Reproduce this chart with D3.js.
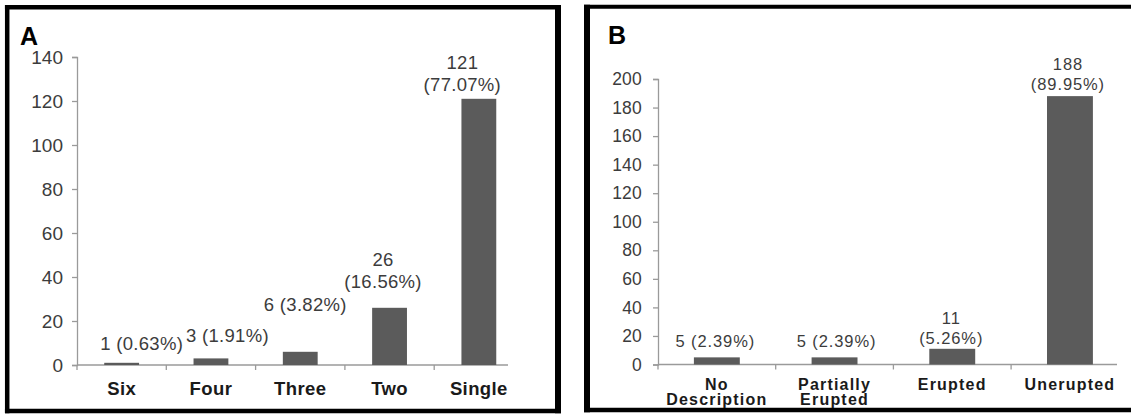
<!DOCTYPE html>
<html>
<head>
<meta charset="utf-8">
<script src="https://cdn.jsdelivr.net/npm/d3@7/dist/d3.min.js"></script>
<style>
  html, body { margin: 0; padding: 0; background: #fff; }
  svg { display: block; }
  text { font-family: "Liberation Sans", Arial, sans-serif; }
</style>
</head>
<body>
<svg id="chart" width="1131" height="414"></svg>
<script>
// ---------- data ----------
const categoriesA = [["Six"], ["Four"], ["Three"], ["Two"], ["Single"]];
const valuesA = [1, 3, 6, 26, 121];
const percentsA = ["0.63%", "1.91%", "3.82%", "16.56%", "77.07%"];
const yTicksA = [0, 20, 40, 60, 80, 100, 120, 140];

const categoriesB = [["No", "Description"], ["Partially", "Erupted"], ["Erupted"], ["Unerupted"]];
const valuesB = [5, 5, 11, 188];
const percentsB = ["2.39%", "2.39%", "5.26%", "89.95%"];
const yTicksB = [0, 20, 40, 60, 80, 100, 120, 140, 160, 180, 200];

// ---------- layout (label placement as in the reference) ----------
const splitA = [false, false, false, true, true];
const dxA = [20, 16.5, 5, -6.5, -16.5];
const dyA = [-19.5, -22.5, -47.5, -26.7, -14.5];
const splitB = [false, false, true, true];
const dxB = [-1.5, 2, -1, -2];
const dyB = [-16, -16, -11, -12];

const svg = d3.select("#chart");

function drawPanel(cfg) {
  const g = svg.append("g");
  // frame: [left, top, right, bottom] edges with per-side widths
  const f = cfg.frame, w = cfg.frameW;
  const sides = [
    [f[0], f[1] - w[1] / 2, f[0], f[3] + w[3] / 2, w[0]],
    [f[0] - w[0] / 2, f[1], f[2] + w[2] / 2, f[1], w[1]],
    [f[2], f[1] - w[1] / 2, f[2], f[3] + w[3] / 2, w[2]],
    [f[0] - w[0] / 2, f[3], f[2] + w[2] / 2, f[3], w[3]]
  ];
  g.selectAll(".frame").data(sides).enter().append("line")
    .attr("x1", d => d[0]).attr("y1", d => d[1])
    .attr("x2", d => d[2]).attr("y2", d => d[3])
    .attr("stroke", "#000").attr("stroke-width", d => d[4]);
  // panel letter
  g.append("text").attr("x", cfg.letterPos[0]).attr("y", cfg.letterPos[1])
    .attr("font-size", 25).attr("font-weight", "bold").attr("fill", "#000")
    .text(cfg.letter);

  const x = d3.scaleBand().domain(cfg.cats.map((c, i) => i))
    .range([cfg.x0, cfg.x0 + cfg.step * cfg.cats.length]).padding(0);
  const y = d3.scaleLinear().domain([0, cfg.ymax]).range([cfg.y0, cfg.y1]);

  // y axis
  const yAxis = d3.axisLeft(y).tickValues(cfg.yTicks).tickSize(5).tickPadding(cfg.tickPad);
  const ya = g.append("g").attr("transform", `translate(${cfg.x0},0)`).call(yAxis);
  ya.select(".domain").attr("stroke", "#9a9a9a").attr("stroke-width", 1.3);
  ya.selectAll(".tick line").attr("stroke", "#9a9a9a").attr("stroke-width", 1.3);
  ya.selectAll(".tick text").attr("font-size", cfg.tickFont).attr("fill", "#3c3c3c")
    .attr("font-family", "Liberation Sans, Arial, sans-serif")
    .style("letter-spacing", cfg.tickLs + "px");

  // x axis line and ticks at band boundaries
  g.append("line").attr("x1", cfg.x0).attr("x2", cfg.xEnd)
    .attr("y1", y(0)).attr("y2", y(0)).attr("stroke", "#9a9a9a").attr("stroke-width", 1.3);
  g.selectAll(".xt").data(cfg.cats.map((c, i) => i)).enter().append("line")
    .attr("x1", d => x(d)).attr("x2", d => x(d))
    .attr("y1", y(0)).attr("y2", y(0) + 5)
    .attr("stroke", "#9a9a9a").attr("stroke-width", 1.3);

  // bars
  const bw = x.bandwidth() * cfg.barFrac;
  g.selectAll(".bar").data(cfg.vals).enter().append("rect")
    .attr("x", (d, i) => x(i) + (x.bandwidth() - bw) / 2)
    .attr("y", d => y(d))
    .attr("width", bw)
    .attr("height", d => y(0) - y(d))
    .attr("fill", "#5b5b5b");

  // value labels
  cfg.vals.forEach((v, i) => {
    const lines = cfg.split[i] ? [String(v), "(" + cfg.pcts[i] + ")"] : [v + " (" + cfg.pcts[i] + ")"];
    const cx = x(i) + x.bandwidth() / 2 + cfg.dx[i];
    const lastY = y(v) + cfg.dy[i];
    lines.forEach((t, k) => {
      g.append("text")
        .attr("x", cx)
        .attr("y", lastY - (lines.length - 1 - k) * cfg.lineH)
        .attr("text-anchor", "middle").attr("dominant-baseline", "central")
        .attr("font-size", cfg.valFont).attr("fill", "#3c3c3c")
        .style("letter-spacing", cfg.valLs + "px")
        .text(t);
    });
  });

  // category labels
  cfg.cats.forEach((lines, i) => {
    const cx = x(i) + x.bandwidth() / 2;
    lines.forEach((t, k) => {
      g.append("text")
        .attr("x", cx).attr("y", cfg.catY + k * cfg.catLineH)
        .attr("text-anchor", "middle").attr("dominant-baseline", "central")
        .attr("font-size", cfg.catFont).attr("font-weight", "bold").attr("fill", "#1a1a1a")
        .style("letter-spacing", cfg.catLs + "px")
        .text(t);
    });
  });
}

drawPanel({
  frame: [7.2, 7.2, 558, 411], frameW: [4.5, 4.5, 6, 4.5],
  letter: "A", letterPos: [20, 45],
  cats: categoriesA, vals: valuesA, pcts: percentsA, yTicks: yTicksA,
  ymax: 140, x0: 77, step: 89.3, xEnd: 508, y0: 365, y1: 57,
  barFrac: 0.39, tickPad: 9, tickFont: 19, tickLs: 0,
  valFont: 18.5, valLs: 0.3, lineH: 21.7,
  split: splitA, dx: dxA, dy: dyA,
  catY: 388, catLineH: 16, catFont: 18.5, catLs: 0.4
});

drawPanel({
  frame: [587, 6.7, 1140, 410], frameW: [6, 4, 6, 4.5],
  letter: "B", letterPos: [608, 44],
  cats: categoriesB, vals: valuesB, pcts: percentsB, yTicks: yTicksB,
  ymax: 200, x0: 658, step: 117.7, xEnd: 1117, y0: 364.5, y1: 79,
  barFrac: 0.39, tickPad: 11, tickFont: 17.5, tickLs: 0.2,
  valFont: 16.5, valLs: 0.9, lineH: 20,
  split: splitB, dx: dxB, dy: dyB,
  catY: 384, catLineH: 15.5, catFont: 16, catLs: 1.2
});
</script>
</body>
</html>
